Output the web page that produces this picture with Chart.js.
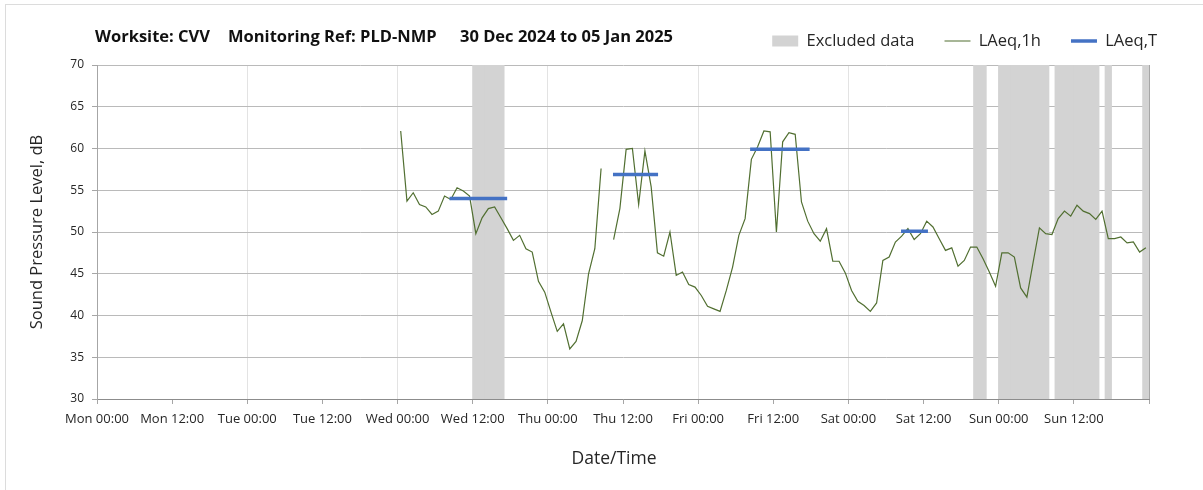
<!DOCTYPE html>
<html>
<head>
<meta charset="utf-8">
<script src="https://cdn.jsdelivr.net/npm/chart.js@4/dist/chart.umd.min.js"></script>
<style>
  html, body { margin: 0; padding: 0; background: #fff; }
  #wrap { position: relative; width: 1203px; height: 490px; overflow: hidden; }
  #frame { position: absolute; left: 5px; top: 4px; right: -2px; bottom: -2px; border-left: 1px solid #dcdcdc; border-top: 1px solid #dcdcdc; }
  canvas { position: absolute; left: 0; top: 0; }
  .ttl { position: absolute; top: 26px; font-family: "Open Sans", sans-serif; font-weight: 700; font-size: 16.5px; color: #111; white-space: nowrap; line-height: 20px; }
  #xtitle { position: absolute; left: 514px; width: 200px; text-align: center; top: 446px; font-family: "Open Sans", sans-serif; font-size: 17.5px; color: #262626; line-height: 22px; }
</style>
</head>
<body>
<div id="wrap">
  <div id="frame"></div>
  <canvas id="c" width="1203" height="490"></canvas>
  <span class="ttl" style="left:95px">Worksite: CVV</span>
  <span class="ttl" style="left:228px">Monitoring Ref: PLD-NMP</span>
  <span class="ttl" style="left:460px">30 Dec 2024 to 05 Jan 2025</span>
  <div id="xtitle">Date/Time</div>
</div>
<script>
// ---- data ----
const dayNames = ['Mon', 'Tue', 'Wed', 'Thu', 'Fri', 'Sat', 'Sun'];
// hourly values; each plotted at the midpoint of its hour (Wed 00:30 = 48.5 h from Mon 00:00)
const firstMid = 48.5;
const laeq1h = [
  62.1, 53.7, 54.7, 53.3, 53.0, 52.1, 52.5, 54.3, 53.9, 55.3, 54.9, 54.3,
  49.8, 51.7, 52.8, 53.0, 51.7, 50.4, 49.0, 49.6, 48.0, 47.6, 44.1, 42.8,
  40.4, 38.1, 39.0, 36.0, 36.9, 39.4, 45.0, 48.0, 57.6, null, 49.1, 52.8,
  59.9, 60.0, 53.3, 59.7, 55.4, 47.5, 47.1, 50.0, 44.8, 45.2, 43.7, 43.4,
  42.4, 41.1, 40.8, 40.5, 43.0, 45.8, 49.6, 51.6, 58.7, 60.2, 62.1, 62.0,
  50.0, 60.8, 61.9, 61.7, 53.6, 51.3, 49.8, 48.9, 50.4, 46.5, 46.5, 45.1,
  43.0, 41.7, 41.2, 40.5, 41.5, 46.6, 47.0, 48.8, 49.5, 50.4, 49.1, 49.8,
  51.3, 50.6, 49.2, 47.8, 48.1, 45.9, 46.6, 48.2, 48.2, 46.8, 45.2, 43.5,
  47.5, 47.5, 47.0, 43.3, 42.2, 46.4, 50.5, 49.8, 49.7, 51.6, 52.5, 51.9,
  53.2, 52.5, 52.2, 51.5, 52.5, 49.2, 49.2, 49.4, 48.7, 48.8, 47.6, 48.1
];
const laeqTStart = [56.3, 82.4, 104.3, 128.4];
const laeqTEnd   = [65.5, 89.6, 113.8, 132.7];
const laeqTValue = [54.0, 56.9, 59.9, 50.1];
// excluded hours (midpoints)
const excludedMids = [60.5, 61.5, 62.5, 63.5, 64.5, 140.5, 141.5,
  144.5, 145.5, 146.5, 147.5, 148.5, 149.5, 150.5, 151.5,
  153.5, 154.5, 155.5, 156.5, 157.5, 158.5, 159.5, 161.5, 167.5];
const yTicks = { min: 30, max: 70, step: 5 };
const xTicks = { min: 0, max: 168, step: 12 };

// ---- build datasets ----
const lineData = laeq1h.map((v, i) => ({ x: firstMid + i, y: v }));
const tData = [];
laeqTValue.forEach((v, i) => {
  tData.push({ x: laeqTStart[i], y: v }, { x: laeqTEnd[i], y: v }, { x: laeqTEnd[i] + 0.01, y: null });
});
const exclData = excludedMids.map(h => ({ x: h, y: yTicks.max }));

const FONT = '"Open Sans", sans-serif';
const TXT = '#262626';

const legendSpacer = {
  id: 'legendSpacer',
  beforeLayout(chart) {
    const lg = chart.legend;
    if (lg && !lg._patched) {
      const orig = lg.fit;
      lg.fit = function () { orig.call(this); this.height += 5.75; };
      lg._patched = true;
    }
  }
};

new Chart(document.getElementById('c'), {
  type: 'line',
  data: {
    datasets: [
      {
        type: 'bar', label: 'Excluded data', data: exclData,
        backgroundColor: '#d3d3d3', borderWidth: 0,
        barPercentage: 1, categoryPercentage: 1, inflateAmount: 0.5,
        order: 3
      },
      {
        label: 'LAeq,1h', data: lineData,
        borderColor: '#516f31', borderWidth: 1.2, pointRadius: 0,
        tension: 0, spanGaps: false, fill: false, order: 2
      },
      {
        label: 'LAeq,T', data: tData,
        borderColor: '#4472c4', borderWidth: 3.5, pointRadius: 0,
        tension: 0, spanGaps: false, fill: false, order: 1, borderCapStyle: 'butt'
      }
    ]
  },
  options: {
    responsive: false,
    animation: false,
    events: [],
    layout: { padding: { left: 0, right: 16, top: 2.75, bottom: 0 } },
    plugins: {
      title: { display: false },
      tooltip: { enabled: false },
      legend: {
        display: true, position: 'top', align: 'end',
        labels: {
          font: { family: FONT, size: 16.5 }, color: TXT,
          usePointStyle: true, pointStyleWidth: 26, boxHeight: 11, padding: 30,
          generateLabels(chart) {
            return [
              { text: 'Excluded data', fillStyle: '#d3d3d3', strokeStyle: '#d3d3d3', lineWidth: 0, pointStyle: 'rect', datasetIndex: 0, fontColor: TXT },
              { text: 'LAeq,1h', fillStyle: '#516f31', strokeStyle: '#516f31', lineWidth: 1.2, pointStyle: 'line', datasetIndex: 1, fontColor: TXT },
              { text: 'LAeq,T', fillStyle: '#4472c4', strokeStyle: '#4472c4', lineWidth: 3.5, pointStyle: 'line', datasetIndex: 2, fontColor: TXT }
            ];
          }
        }
      }
    },
    scales: {
      x: {
        type: 'linear', min: xTicks.min, max: xTicks.max, offset: false,
        grid: {
          offset: false, drawOnChartArea: true, tickLength: 5, tickColor: '#a6a6a6', lineWidth: 1,
          color: ctx => {
            const v = ctx.tick ? ctx.tick.value : 0;
            if (v === xTicks.max) return '#a6a6a6';
            return v % 24 === 0 ? '#e3e3e3' : 'rgba(0,0,0,0)';
          }
        },
        border: { display: true, color: '#8c8c8c', width: 1 },
        ticks: {
          stepSize: xTicks.step, autoSkip: false, maxRotation: 0, minRotation: 0,
          font: { family: FONT, size: 13 }, color: TXT, padding: 7,
          callback: v => {
            if (v >= xTicks.max) return '';
            return dayNames[Math.floor(v / 24)] + ' ' + (v % 24 === 0 ? '00:00' : '12:00');
          }
        },
        title: { display: false },
        afterFit: s => { s.height = 91; }
      },
      y: {
        type: 'linear', position: 'left', min: yTicks.min, max: yTicks.max,
        grid: { color: '#bababa', tickLength: 5, tickColor: '#a6a6a6', lineWidth: 1 },
        border: { display: true, color: '#a6a6a6', width: 1 },
        ticks: { stepSize: yTicks.step, font: { family: FONT, size: 12 }, color: TXT, padding: 8 },
        title: { display: true, text: 'Sound Pressure Level, dB', font: { family: FONT, size: 16.5 }, color: TXT, padding: { top: 27, bottom: 0 } },
        afterFit: s => { s.width = 97; }
      },
      y2: {
        type: 'linear', position: 'right', min: yTicks.min, max: yTicks.max, display: true,
        grid: { display: false, drawOnChartArea: false },
        border: { display: false },
        ticks: { display: false },
        afterFit: s => { s.width = 38; }
      }
    }
  },
  plugins: [legendSpacer]
});
</script>
</body>
</html>
